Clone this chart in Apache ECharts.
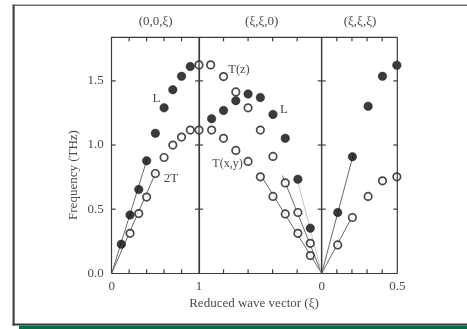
<!DOCTYPE html>
<html><head><meta charset="utf-8">
<script src="https://cdn.jsdelivr.net/npm/echarts@6/dist/echarts.min.js"></script>
<style>html,body{margin:0;padding:0;background:#fff}#c{width:467px;height:329px}</style>
</head><body><div id="c"></div>
<script>
// Panel titles and tick values
const panelTitles = ['(0,0,ξ)', '(ξ,ξ,0)', '(ξ,ξ,ξ)'];
const yTickVals = [0.5, 1.0, 1.5];
const xTickVals = [[0.2, 0.4, 0.6, 0.8], [0.2, 0.4, 0.6, 0.8], [0.1, 0.2, 0.3, 0.4]];
// Panel 1: (0,0,ξ)
const p1L_xi = [0.11, 0.21, 0.31, 0.40, 0.50, 0.60, 0.70, 0.80, 0.90];
const p1L_f  = [0.226, 0.455, 0.653, 0.877, 1.091, 1.29, 1.432, 1.536, 1.612];
const p1T_xi = [0.21, 0.31, 0.40, 0.50, 0.60, 0.70, 0.80, 0.90, 1.0];
const p1T_f  = [0.312, 0.466, 0.594, 0.778, 0.903, 1.0, 1.062, 1.117, 1.117];
const p1Lines = [[0.41, 0.90], [0.52, 0.81]];
// Panel 2: (ξ,ξ,0), ξ from 1 to 0
const p2Tz_xi = [1.0, 0.905, 0.80, 0.70, 0.60, 0.50, 0.397, 0.297, 0.194, 0.093];
const p2Tz_f  = [1.625, 1.625, 1.534, 1.414, 1.29, 1.117, 0.911, 0.705, 0.474, 0.234];
const p2Txy_xi = [0.897, 0.80, 0.70, 0.60, 0.50, 0.397, 0.297, 0.194, 0.093];
const p2Txy_f  = [1.117, 1.052, 0.958, 0.872, 0.752, 0.599, 0.463, 0.312, 0.138];
const p2L_xi = [0.897, 0.80, 0.70, 0.60, 0.50, 0.397, 0.297, 0.194, 0.093];
const p2L_f  = [1.205, 1.27, 1.346, 1.398, 1.37, 1.239, 1.052, 0.734, 0.352];
const p2Lines = [[0.50, 0.77], [0.32, 0.762]];
const p2LineFaint = [0.19, 0.70];
// Panel 3: (ξ,ξ,ξ)
const p3_xi = [0.106, 0.203, 0.307, 0.402, 0.497];
const p3L_f = [0.474, 0.909, 1.302, 1.536, 1.622];
const p3T_f = [0.221, 0.435, 0.599, 0.721, 0.752];
const p3Lines = [[0.21, 0.93], [0.21, 0.46]];

const zip = (a, b) => a.map((v, i) => [v, b[i]]);
const FONT = 'Liberation Serif';
const TXT = '#4a4a4a';
const AX = '#3c3c3c';
const Y_MAX = 1.84;

const gTop = 37.3, gHeight = 236;
const grids = [
  {left: 111.7, width: 87.3, top: gTop, height: gHeight},
  {left: 199, width: 122.7, top: gTop, height: gHeight},
  {left: 321.7, width: 75.6, top: gTop, height: gHeight}
];
const xCfg = [
  {min: 0, max: 1, interval: 0.2, inverse: false, labels: {0: '0', 1: '1'}},
  {min: 0, max: 1, interval: 0.2, inverse: true, labels: {}},
  {min: 0, max: 0.5, interval: 0.1, inverse: false, labels: {0: '0', 0.5: '0.5'}}
];
const xAxis = [], yAxis = [];
xCfg.forEach((c, i) => {
  xAxis.push({gridIndex: i, type: 'value', position: 'bottom', min: c.min, max: c.max, interval: c.interval, inverse: c.inverse,
    splitLine: {show: false}, axisLine: {show: true, onZero: false, lineStyle: {color: AX, width: 1.2}},
    axisTick: {show: false},
    axisLabel: {show: true, margin: 7, fontFamily: FONT, fontSize: 13, color: TXT,
      formatter: v => { for (const k in c.labels) { if (Math.abs(v - Number(k)) < 1e-6) return c.labels[k]; } return ''; }}});
  yAxis.push({gridIndex: i, type: 'value', position: 'left', min: 0, max: Y_MAX, interval: 0.5, splitLine: {show: false},
    axisLine: {show: true, onZero: false, lineStyle: {color: AX, width: 1.2}},
    axisTick: {show: false},
    axisLabel: {show: i === 0, showMaxLabel: false, margin: 8, fontFamily: FONT, fontSize: 13, color: TXT,
      formatter: v => v.toFixed(1)}});
});

const series = [];
function addLine(g, end, color) {
  series.push({type: 'line', xAxisIndex: g, yAxisIndex: g, data: [[0, 0], end], showSymbol: false, symbol: 'none',
    lineStyle: {color: color || '#6a6a6a', width: 1}, z: 1, silent: true, animation: false});
}
function addPts(g, data, filled) {
  series.push({type: 'scatter', xAxisIndex: g, yAxisIndex: g, data: data, symbol: 'circle', symbolSize: filled ? 8.5 : 7.5,
    itemStyle: filled ? {color: '#0a0a0a', borderColor: '#0a0a0a', borderWidth: 0.5} : {color: '#fff', borderColor: '#1a1a1a', borderWidth: 1.7},
    z: 3, silent: true, animation: false});
}
// frame: top & right edges plus inward ticks on all four sides, placed through the axes' scales
function addFrame(g) {
  const c = xCfg[g];
  series.push({type: 'custom', coordinateSystem: 'cartesian2d', xAxisIndex: g, yAxisIndex: g, data: [[c.min, 0]],
    clip: false, silent: true, animation: false, z: 4,
    renderItem: function (params, api) {
      const st = {stroke: AX, lineWidth: 1.2};
      const L = (x1, y1, x2, y2) => ({type: 'line', shape: {x1: x1, y1: y1, x2: x2, y2: y2}, style: st});
      const a = api.coord([c.min, 0]), b = api.coord([c.max, Y_MAX]);
      const xl = Math.min(a[0], b[0]), xr = Math.max(a[0], b[0]);
      const yb = a[1], yt = b[1];
      const ch = [L(xl, yt, xr, yt), L(xr, yb, xr, yt)];
      xTickVals[g].forEach(v => { const p = api.coord([v, 0]); ch.push(L(p[0], yb, p[0], yb - 4)); ch.push(L(p[0], yt, p[0], yt + 4)); });
      yTickVals.forEach(v => { const p = api.coord([c.min, v]); ch.push(L(xl, p[1], xl + 4, p[1])); ch.push(L(xr, p[1], xr - 4, p[1])); });
      return {type: 'group', children: ch};
    }});
}
p1Lines.forEach(e => addLine(0, e));
p2Lines.forEach(e => addLine(1, e));
addLine(1, p2LineFaint, '#c4c4c4');
p3Lines.forEach(e => addLine(2, e));
addPts(0, zip(p1L_xi, p1L_f), true);
addPts(0, zip(p1T_xi, p1T_f), false);
addPts(1, zip(p2Tz_xi, p2Tz_f), false);
addPts(1, zip(p2Txy_xi, p2Txy_f), false);
addPts(1, zip(p2L_xi, p2L_f), true);
addPts(2, zip(p3_xi, p3L_f), true);
addPts(2, zip(p3_xi, p3T_f), false);
[0, 1, 2].forEach(addFrame);

const t = (text, x, y, extra, size) => Object.assign({type: 'text', x: x, y: y,
  style: {text: text, fontFamily: FONT, fontSize: size || 13, fill: TXT, align: 'center', verticalAlign: 'middle'}}, extra || {});
const graphic = [
  {type: 'rect', shape: {x: 13, y: 4.5, width: 454, height: 1.6}, style: {fill: '#707070'}},
  {type: 'rect', shape: {x: 12.5, y: 4.5, width: 2.2, height: 321}, style: {fill: '#444'}},
  {type: 'rect', shape: {x: 12.5, y: 323.5, width: 454.5, height: 2}, style: {fill: '#3a3a3a'}},
  {type: 'rect', shape: {x: 19, y: 325.5, width: 448, height: 3.5}, style: {fill: '#0b6a46'}},
  t(panelTitles[0], 155.7, 21.7),
  t(panelTitles[1], 261.7, 21.7),
  t(panelTitles[2], 360, 21.7),
  t('L', 156.5, 99),
  t('2T', 171, 179),
  t('T(z)', 239, 70, null, 12.5),
  t('L', 284, 110),
  t('T(x,y)', 227.5, 163.5, null, 12),
  t('Reduced wave vector (ξ)', 254, 304),
  t('Frequency (THz)', 73.5, 175, {rotation: Math.PI / 2})
];

const chart = echarts.init(document.getElementById('c'), null, {renderer: 'canvas'});
chart.setOption({backgroundColor: '#fff', animation: false, grid: grids, xAxis: xAxis, yAxis: yAxis, series: series, graphic: graphic});
</script></body></html>
